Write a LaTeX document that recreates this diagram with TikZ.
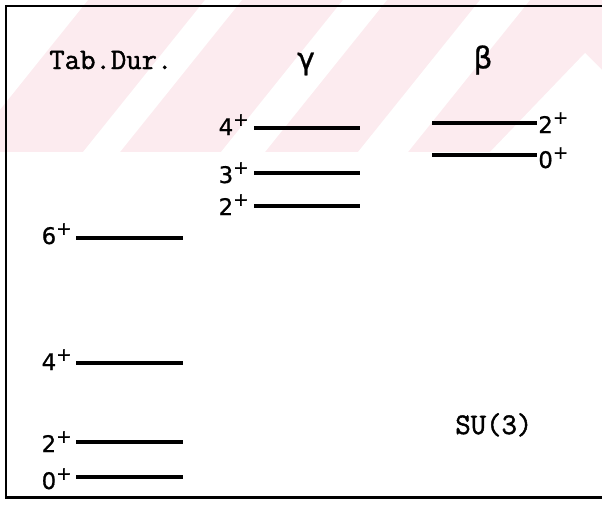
\documentclass[tikz,border=0pt]{standalone}
\usepackage{fontspec}
\newfontfamily\typefont[FakeBold=1.6]{Latin Modern Mono}
\newfontfamily\labfont[FakeBold=0.8]{DejaVu Sans}
\newcommand{\spinlab}[1]{#1\raisebox{0.4em}{\fontsize{10.5}{10.5}\selectfont +}}

\begin{document}
\begin{tikzpicture}[x=0.02cm, y=-0.02cm,
    lvl/.style={line width=0.075cm},
    frame/.style={line width=0.06cm, line join=miter},
    head/.style={font=\typefont\fontsize{17}{19}\selectfont, inner sep=0pt},
    greek/.style={font=\labfont\fontsize{17}{19}\selectfont, inner sep=0pt},
    lab/.style={font=\labfont\fontsize{13}{15}\selectfont, inner sep=0pt}]
  \definecolor{wmark}{RGB}{252,235,239}
  \useasboundingbox (0,0) rectangle (602,507);
  % faint striped band along the top
  \begin{scope}
    \clip (0,0) rectangle (602,152);
    \fill[wmark] (0,0) rectangle (602,152);
    \foreach \ca/\cb in {-40/88,205/242,343/387,480/530} {
      \fill[white] (\ca,0) -- (\cb,0) -- (\cb-122,152) -- (\ca-122,152) -- cycle;
    }
    \fill[white] (490,152) -- (585,53) -- (684,152) -- cycle;
  \end{scope}
  % open frame
  \draw[frame] (602,6) -- (6,6) -- (6,497) -- (602,497);
  % column heads
  \node[head, anchor=base west] (tabdur) at (49,69) {Tab.Dur.};
  \node[greek] (gam) at (306,64) {γ};
  \node[greek] (bet) at (483,60) {β};
  \node[head, anchor=base west] (su3) at (455,434) {SU(3)};
  % ground band
  \foreach \spin/\ypos/\ybase in {6/238/244,4/363/370,2/442/452,0/477/489} {
    \draw[lvl] (76,\ypos) -- (183,\ypos);
    \node[lab, anchor=base east] (td\spin) at (72,\ybase) {\spinlab{\spin}};
  }
  % gamma band
  \foreach \spin/\ypos/\ybase in {4/128/135,3/173/183,2/206/215} {
    \draw[lvl] (254,\ypos) -- (360,\ypos);
    \node[lab, anchor=base east] (gam\spin) at (249,\ybase) {\spinlab{\spin}};
  }
  % beta band
  \foreach \spin/\ypos/\ybase in {2/123/133,0/155/168} {
    \draw[lvl] (432,\ypos) -- (537,\ypos);
    \node[lab, anchor=base west] (bet\spin) at (538,\ybase) {\spinlab{\spin}};
  }
\end{tikzpicture}
\end{document}
